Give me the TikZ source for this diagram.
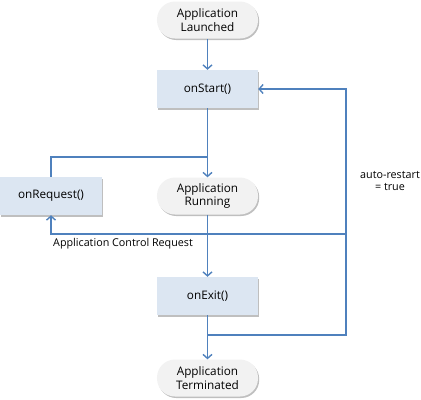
\documentclass[tikz,border=0pt]{standalone}
\usepackage{fontspec}
\setmainfont{Open Sans}
\usetikzlibrary{arrows.meta,shadows,calc}
\definecolor{lineblue}{HTML}{4F81BD}
\definecolor{boxfill}{HTML}{DCE6F2}
\definecolor{pillfill}{HTML}{F2F2F2}
\tikzset{
  base/.style={minimum width=101bp, inner sep=0pt, align=center, font=\fontsize{11.8}{13.5}\selectfont,
    drop shadow={shadow xshift=1.2bp, shadow yshift=-1.5bp, fill=black, opacity=0.25}},
  procbox/.style={base, rectangle, fill=boxfill, minimum height=38bp},
  pill/.style={base, rectangle, rounded corners=18bp, fill=pillfill, minimum height=37bp},
  conn/.style={draw=lineblue, line width=1.4bp},
  arr/.style={conn, -{Straight Barb[length=4bp,width=9bp,line width=1.4bp]}},
  lbl/.style={font=\fontsize{10.8}{12.5}\selectfont, align=center, inner sep=0pt}
}
\begin{document}
\begin{tikzpicture}[x=1bp,y=-1bp]
\useasboundingbox (0,0) rectangle (421,400);
\node[pill] (launched) at (207.5,20) {Application\\Launched};
\node[procbox] (start) at (207.5,89) {onStart()};
\node[procbox, minimum width=102bp] (request) at (51,196) {onRequest()};
\node[pill] (running) at (207.5,196) {Application\\Running};
\node[procbox] (exit) at (207.5,296) {onExit()};
\node[pill] (term) at (207.5,378) {Application\\Terminated};
\coordinate (j1) at (207.5,157);
\coordinate (j2) at (346,234);
\coordinate (j3) at (207.5,335);
\coordinate (rc) at (346,335);
\node[lbl, anchor=west] (ctl) at (53,244) {Application Control Request};
\node[lbl] (auto) at (390,181) {auto-restart\\= true};
\draw[arr] (launched) -- (start);
\draw[arr] (start) -- (running);
\draw[conn] (request.north) |- (j1);
\draw[arr] (running) -- (exit);
\draw[arr] (exit) -- (term);
\draw[arr] (j3) -- (rc) |- (start.east);
\draw[arr] (j2) -| (request.south);
\end{tikzpicture}
\end{document}
